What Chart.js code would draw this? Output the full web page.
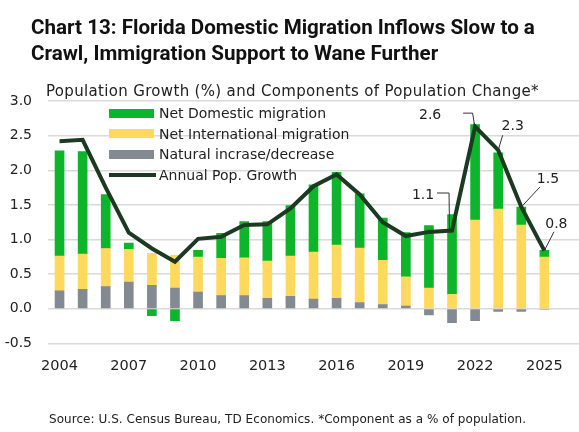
<!DOCTYPE html>
<html>
<head>
<meta charset="utf-8">
<script src="https://cdn.jsdelivr.net/npm/chart.js@4.4.1/dist/chart.umd.min.js"></script>
<style>
  body { margin: 0; background: #fff; }
  #wrap { position: relative; width: 579px; height: 432px; overflow: hidden; font-family: "DejaVu Sans", sans-serif; color: #222; }
  #chart { position: absolute; left: 0; top: 0; }
  #title { position: absolute; left: 31px; top: 13.5px; font-family: Roboto, sans-serif; font-weight: 700; font-size: 20.6px; line-height: 26px; color: #111; white-space: nowrap; }
  #subtitle { position: absolute; left: 46px; top: 82.5px; font-size: 15px; line-height: 17px; letter-spacing: 0.33px; white-space: nowrap; }
  #source { position: absolute; left: 49px; top: 412px; font-size: 12px; line-height: 14px; letter-spacing: 0.05px; white-space: nowrap; }
  #legend { position: absolute; left: 109px; top: 103px; font-size: 14px; }
  .item { position: relative; height: 20.5px; line-height: 20.5px; padding-left: 50px; white-space: nowrap; }
  .swatch { position: absolute; left: 0; top: 5.5px; width: 45px; height: 9px; }
  .swatch.line { top: 8.5px; width: 47px; height: 4px; }
</style>
</head>
<body>
<div id="wrap">
  <canvas id="chart" width="579" height="432"></canvas>
  <div id="title">Chart 13: Florida Domestic Migration Inflows Slow to a<br>Crawl, Immigration Support to Wane Further</div>
  <div id="subtitle">Population Growth (%) and Components of Population Change*</div>
  <div id="legend"></div>
  <div id="source">Source: U.S. Census Bureau, TD Economics. *Component as a % of population.</div>
</div>
<script>
// Florida population components, % of population
const years = [2004, 2005, 2006, 2007, 2008, 2009, 2010, 2011, 2012, 2013, 2014,
               2015, 2016, 2017, 2018, 2019, 2020, 2021, 2022, 2023, 2024, 2025];
const natural = [0.26, 0.28, 0.32, 0.385, 0.34, 0.30, 0.24, 0.19, 0.19, 0.15, 0.18,
                 0.14, 0.15, 0.09, 0.06, 0.04, -0.09, -0.20, -0.17, -0.04, -0.04, -0.01];
const international = [0.50, 0.51, 0.55, 0.475, 0.46, 0.47, 0.505, 0.54, 0.545, 0.54, 0.58,
                       0.68, 0.77, 0.785, 0.64, 0.42, 0.30, 0.21, 1.28, 1.44, 1.21, 0.745];
const domestic = [1.52, 1.48, 0.78, 0.09, -0.10, -0.17, 0.10, 0.36, 0.525, 0.57, 0.73,
                  0.97, 1.05, 0.785, 0.61, 0.64, 0.90, 1.15, 1.38, 0.81, 0.26, 0.10];
const growth = [2.42, 2.44, 1.75, 1.10, 0.87, 0.68, 1.01, 1.04, 1.21, 1.22, 1.45,
                1.77, 1.94, 1.65, 1.25, 1.05, 1.11, 1.13, 2.63, 2.29, 1.47, 0.84];
const yTicks = [-0.5, 0.0, 0.5, 1.0, 1.5, 2.0, 2.5, 3.0];
const labelledYears = [2021, 2022, 2023, 2024, 2025];

// where each value label sits relative to its point, and its leader line (px offsets)
const labelOffsets = {
  2021: { dx: -29, dy: -35.5, leader: [[-15, -37.5], [-3, -37.5], [-2.5, -1]] },
  2022: { dx: -45, dy: -11, leader: [[-12, -13.5], [-2.5, -13.5], [-0.5, -1]] },
  2023: { dx: 14.5, dy: -23.5, leader: [[4.5, -15], [0, 0]] },
  2024: { dx: 26.7, dy: -27.5, leader: [[18.7, -20], [0, 0]] },
  2025: { dx: 12, dy: -26.5, leader: [[9.6, -18.8], [0, 0]] }
};

const toPoints = vals => vals.map((v, i) => ({ x: years[i], y: v }));

const valueLabels = {
  id: 'valueLabels',
  afterDatasetsDraw(chart) {
    const ctx = chart.ctx;
    const xs = chart.scales.x, ys = chart.scales.y;
    ctx.save();
    ctx.strokeStyle = '#333';
    ctx.lineWidth = 1;
    ctx.fillStyle = '#222';
    ctx.font = '14px "DejaVu Sans"';
    ctx.textAlign = 'center';
    ctx.textBaseline = 'middle';
    labelledYears.forEach(yr => {
      const i = years.indexOf(yr);
      const px = xs.getPixelForValue(yr);
      const py = ys.getPixelForValue(growth[i]);
      const o = labelOffsets[yr];
      ctx.beginPath();
      o.leader.forEach(([lx, ly], k) => {
        if (k === 0) ctx.moveTo(px + lx, py + ly);
        else ctx.lineTo(px + lx, py + ly);
      });
      ctx.stroke();
      ctx.fillText(growth[i].toFixed(1), px + o.dx, py + o.dy);
    });
    ctx.restore();
  }
};

const barStyle = { stack: 'comp', order: 1, barThickness: 9 };

const chart = new Chart(document.getElementById('chart'), {
  type: 'bar',
  data: {
    datasets: [
      { label: 'Natural incrase/decrease', data: toPoints(natural), backgroundColor: '#838a92', ...barStyle },
      { label: 'Net International migration', data: toPoints(international), backgroundColor: '#ffd95b', ...barStyle },
      { label: 'Net Domestic migration', data: toPoints(domestic), backgroundColor: '#0db52a', ...barStyle },
      { type: 'line', label: 'Annual Pop. Growth', data: toPoints(growth), borderColor: '#1c3a21',
        backgroundColor: '#1c3a21', borderWidth: 4, pointRadius: 0, tension: 0, stack: 'growth', order: 0 }
    ]
  },
  options: {
    responsive: false,
    animation: false,
    layout: { padding: { top: 101, left: 0, right: 0, bottom: 48.6 } },
    plugins: { legend: { display: false }, tooltip: { enabled: false } },
    scales: {
      x: {
        type: 'linear',
        stacked: true,
        offset: false,
        min: 2003.5,
        max: 2026.5,
        grid: { display: false, drawTicks: false },
        border: { display: false },
        afterFit: s => { s.height = 40; },
        ticks: {
          stepSize: 3,
          includeBounds: false,
          padding: 14,
          color: '#222',
          font: { family: 'DejaVu Sans', size: 14.5 },
          callback: v => String(v)
        }
      },
      y: {
        stacked: true,
        min: -0.5,
        max: 3.0,
        afterFit: s => { s.width = 48; },
        afterBuildTicks: s => { s.ticks = yTicks.map(v => ({ value: v })); },
        grid: { color: '#d9d9d9', lineWidth: 1.5, drawTicks: false },
        border: { display: false },
        ticks: {
          padding: 16,
          color: '#222',
          font: { family: 'DejaVu Sans', size: 14 },
          callback: v => v.toFixed(1)
        }
      }
    }
  },
  plugins: [valueLabels]
});

// legend: domestic, international, natural, then the growth line
const legend = document.getElementById('legend');
[2, 1, 0, 3].forEach(idx => {
  const ds = chart.data.datasets[idx];
  const row = document.createElement('div');
  row.className = 'item';
  const sw = document.createElement('span');
  sw.className = ds.type === 'line' ? 'swatch line' : 'swatch';
  sw.style.background = ds.type === 'line' ? ds.borderColor : ds.backgroundColor;
  row.appendChild(sw);
  row.appendChild(document.createTextNode(ds.label));
  legend.appendChild(row);
});
</script>
</body>
</html>
